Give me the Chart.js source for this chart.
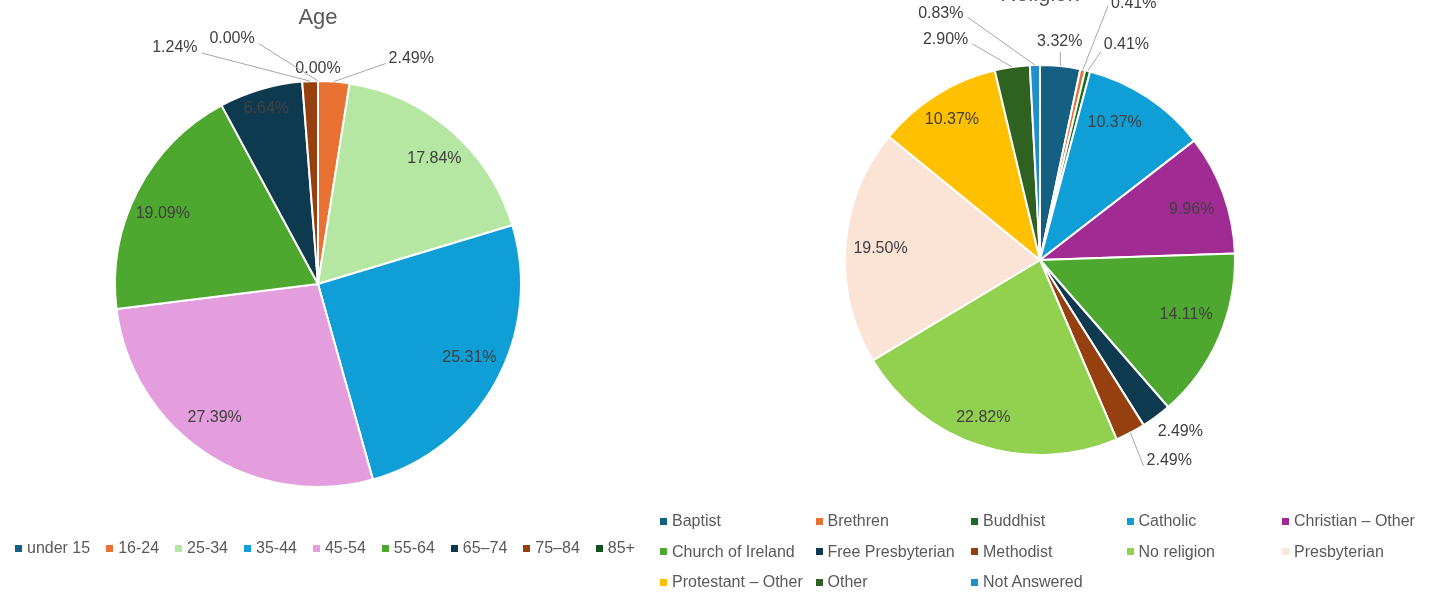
<!DOCTYPE html>
<html>
<head>
<meta charset="utf-8">
<script src="https://cdn.jsdelivr.net/npm/chart.js@4/dist/chart.umd.min.js"></script>
<style>
  html, body { margin: 0; padding: 0; background: #fff; overflow: hidden; }
  body { width: 1435px; height: 594px; position: relative; font-family: "Liberation Sans", Arial, sans-serif; }
  canvas { position: absolute; }
  .legend { position: absolute; color: #595959; font-size: 16px; line-height: 20px; }
  .legend .item { display: flex; align-items: center; white-space: nowrap; }
  .legend .sw { width: 7px; height: 7px; margin-right: 5px; flex: none; }
  #ageLegend { left: 15px; top: 538px; display: flex; }
  #ageLegend .item { margin-right: 16px; }
  #relLegend { left: 660px; top: 511px; display: grid; grid-template-columns: repeat(5, 155.5px); row-gap: 10.5px; }
</style>
</head>
<body>
<canvas id="ageChart" width="640" height="594" style="left:0;top:0"></canvas>
<canvas id="relChart" width="795" height="624" style="left:640px;top:-30px"></canvas>
<div class="legend" id="ageLegend"></div>
<div class="legend" id="relLegend"></div>
<script>
// age breakdown (percent)
const ageLabels = ["under 15", "16-24", "25-34", "35-44", "45-54", "55-64", "65\u201374", "75\u201384", "85+"];
const ageValues = [0.00, 2.49, 17.84, 25.31, 27.39, 19.09, 6.64, 1.24, 0.00];
const ageColors = ["#156082", "#E97132", "#B5E6A2", "#0F9ED5", "#E49EDD", "#4EA72E", "#0E3A4F", "#97400F", "#124F1A"];

// religion breakdown (percent)
const relLabels = ["Baptist", "Brethren", "Buddhist", "Catholic", "Christian \u2013 Other", "Church of Ireland",
  "Free Presbyterian", "Methodist", "No religion", "Presbyterian", "Protestant \u2013 Other", "Other", "Not Answered"];
const relValues = [3.32, 0.41, 0.41, 10.37, 9.96, 14.11, 2.49, 2.49, 22.82, 19.50, 10.37, 2.90, 0.83];
const relColors = ["#156082", "#E97132", "#196B24", "#0F9ED5", "#A02B93", "#4EA72E",
  "#0E3A4F", "#97400F", "#92D050", "#FBE3D6", "#FFC000", "#2F6121", "#2090CA"];

const FONT = '"Liberation Sans", Arial, sans-serif';
const RAD = Math.PI / 180;

// draws the percentage labels, some outside with leader lines
const pieLabels = {
  id: "pieLabels",
  afterDatasetsDraw(chart, args, opts) {
    const ctx = chart.ctx;
    const meta = chart.getDatasetMeta(0);
    const values = chart.data.datasets[0].data;
    ctx.save();
    ctx.font = "16px " + FONT;
    ctx.fillStyle = "#404040";
    ctx.textAlign = "center";
    ctx.textBaseline = "middle";
    meta.data.forEach((arc, i) => {
      const p = arc.getProps(["x", "y", "startAngle", "endAngle", "outerRadius"], true);
      const mid = (p.startAngle + p.endAngle) / 2;
      const text = values[i].toFixed(2) + "%";
      const out = opts.outside[i];
      if (out) {
        const a = mid + out.shift * RAD;
        const d = p.outerRadius + out.gap;
        const lx = p.x + Math.cos(a) * d;
        const ly = p.y + Math.sin(a) * d;
        if (out.line !== undefined) {
          const w = ctx.measureText(text).width;
          const sx = p.x + Math.cos(mid) * p.outerRadius;
          const sy = p.y + Math.sin(mid) * p.outerRadius;
          let ex, ey;
          if (out.below) {
            ex = sx; ey = ly + out.line;
          } else {
            ex = lx >= sx ? lx - w / 2 - 3 : lx + w / 2 + 4;
            ey = ly + out.line;
          }
          ctx.strokeStyle = "#A6A6A6";
          ctx.lineWidth = 1;
          ctx.beginPath();
          ctx.moveTo(sx, sy);
          ctx.lineTo(ex, ey);
          ctx.stroke();
        }
        ctx.fillText(text, lx, ly);
      } else {
        const o = (opts.inside && opts.inside[i]) || {};
        const f = o.f || opts.insideR;
        const a = mid + (o.shift || 0) * RAD;
        ctx.fillText(text, p.x + Math.cos(a) * p.outerRadius * f, p.y + Math.sin(a) * p.outerRadius * f);
      }
    });
    ctx.restore();
  }
};

function pieChart(id, title, labels, values, colors, titlePad, pad, labelOpts) {
  return new Chart(document.getElementById(id).getContext("2d"), {
    type: "pie",
    data: {
      labels: labels,
      datasets: [{ data: values, backgroundColor: colors, borderColor: "#ffffff", borderWidth: 2 }]
    },
    options: {
      responsive: false,
      animation: false,
      devicePixelRatio: 1,
      layout: { padding: pad },
      plugins: {
        legend: { display: false },
        tooltip: { enabled: false },
        title: {
          display: true,
          text: title,
          color: "#595959",
          font: { size: 22, family: FONT, weight: "normal" },
          padding: titlePad
        },
        pieLabels: labelOpts
      }
    },
    plugins: [pieLabels]
  });
}

pieChart("ageChart", "Age", ageLabels, ageValues, ageColors,
  { top: 5, bottom: 48.6 }, { left: 114, right: 118, top: 0, bottom: 106 },
  {
    insideR: 0.84,
    inside: {
      2: { f: 0.843, shift: 1.8 },
      3: { f: 0.83, shift: -2.7 },
      4: { f: 0.83, shift: 4.2 },
      5: { f: 0.84, shift: -2.8 },
      6: { f: 0.9 }
    },
    outside: {
      0: { shift: 0, gap: 12 },
      1: { shift: 18, gap: 41, line: 5 },
      7: { shift: -29, gap: 73, line: 5 },
      8: { shift: -19.3, gap: 57, line: 5 }
    }
  });

pieChart("relChart", "Religion", relLabels, relValues, relColors,
  { top: 12, bottom: 55.6 }, { left: 204, right: 199, top: 0, bottom: 138 },
  {
    insideR: 0.82,
    inside: {
      3: { f: 0.80, shift: -5 },
      4: { f: 0.82, shift: 1.4 },
      5: { f: 0.80, shift: -3 },
      8: { f: 0.857, shift: 1.9 },
      10: { f: 0.85 }
    },
    outside: {
      0: { shift: -0.8, gap: 24, line: 10, below: true },
      1: { shift: 7.4, gap: 78, line: 2 },
      2: { shift: 7.7, gap: 37, line: 7 },
      6: { shift: -2.6, gap: 27 },
      7: { shift: -5.1, gap: 44, line: 5 },
      11: { shift: -15, gap: 44.5, line: 4 },
      12: { shift: -20.4, gap: 71, line: 4 }
    }
  });

// legends as html, built from the same arrays
function buildLegend(id, labels, colors) {
  const box = document.getElementById(id);
  labels.forEach((lab, i) => {
    const item = document.createElement("div");
    item.className = "item";
    const sw = document.createElement("span");
    sw.className = "sw";
    sw.style.background = colors[i];
    const t = document.createElement("span");
    t.textContent = lab;
    item.appendChild(sw);
    item.appendChild(t);
    box.appendChild(item);
  });
}
buildLegend("ageLegend", ageLabels, ageColors);
buildLegend("relLegend", relLabels, relColors);
</script>
</body>
</html>
